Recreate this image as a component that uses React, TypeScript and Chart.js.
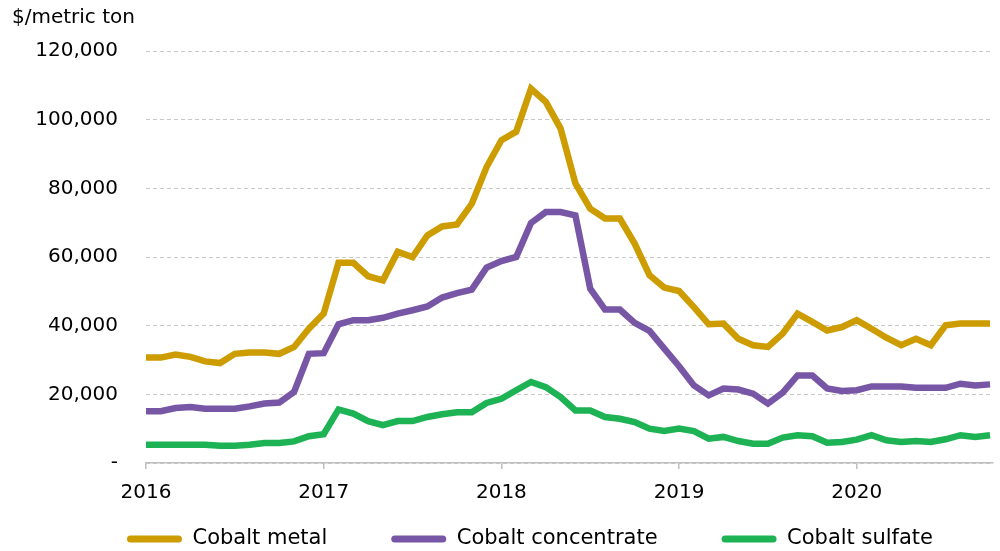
import React, { useEffect, useRef } from "react";
import { Chart, registerables } from "chart.js";

Chart.register(...registerables);

const seriesNames = ["Cobalt metal", "Cobalt concentrate", "Cobalt sulfate"];
const seriesColors = ["#CC9C00", "#7856A6", "#1DB254"];

// Monthly values, Jan 2016 – Oct 2020 ($/metric ton)
const cobaltMetal = [
  30700, 30700, 31600, 30900, 29600, 29100, 31800, 32200, 32200, 31800, 33800, 39100,
  43500, 58300, 58300, 54400, 53200, 61500, 60000, 66300, 68900, 69500, 75500, 86200,
  94000, 96500, 109000, 105200, 97400, 81400, 74100, 71200, 71200, 63900, 54700, 51100,
  50100, 45400, 40400, 40600, 36200, 34300, 33800, 37700, 43500, 41100, 38600, 39600,
  41600, 39100, 36500, 34300, 36200, 34300, 40100, 40600, 40600, 40600,
];
const cobaltConcentrate = [
  15100, 15100, 16000, 16300, 15800, 15800, 15800, 16500, 17300, 17600, 20700, 31800,
  32000, 40400, 41600, 41600, 42300, 43500, 44500, 45600, 48200, 49500, 50500, 56900,
  58800, 60000, 69900, 73100, 73100, 72100, 50800, 44700, 44700, 40800, 38500, 33300,
  28200, 22600, 19700, 21700, 21400, 20200, 17300, 20500, 25500, 25500, 21700, 21000,
  21200, 22300, 22300, 22300, 21900, 21900, 21900, 23100, 22600, 22900,
];
const cobaltSulfate = [
  5300, 5300, 5300, 5300, 5300, 5000, 5000, 5300, 5800, 5800, 6300, 7800,
  8400, 15600, 14400, 12200, 11000, 12200, 12200, 13400, 14200, 14800, 14800, 17500,
  18700, 21200, 23600, 22100, 19200, 15300, 15300, 13400, 12900, 11900, 10000, 9300,
  10000, 9300, 7100, 7600, 6400, 5600, 5600, 7400, 8100, 7800, 5900, 6100,
  6800, 8100, 6600, 6100, 6400, 6100, 6900, 8100, 7600, 8100,
];

const xTickPositions = [0, 12, 24, 36, 48];
const xTickLabels = ["2016", "2017", "2018", "2019", "2020"];
const yTicks = [0, 20000, 40000, 60000, 80000, 100000, 120000];
const yTickLabels = ["-", "20,000", "40,000", "60,000", "80,000", "100,000", "120,000"];
const yAxisTitle = "$/metric ton";

const allSeries = [cobaltMetal, cobaltConcentrate, cobaltSulfate];

const FONT = "'DejaVu Sans', sans-serif";

const unitLabelPlugin = {
  id: "unitLabel",
  afterDraw(chart: any) {
    const ctx = chart.ctx;
    ctx.save();
    ctx.font = `20px ${FONT}`;
    ctx.fillStyle = "#000";
    ctx.textAlign = "left";
    ctx.textBaseline = "middle";
    ctx.fillText(yAxisTitle, 12, 18);
    ctx.restore();
  },
};

// Moves the legend row to sit below the year labels, slightly right of centre
const legendPlacePlugin = {
  id: "legendPlace",
  afterLayout(chart: any) {
    const lg = chart.legend;
    if (!lg) return;
    lg.top = 464.5;
    lg.bottom = chart.height;
    lg.left += 16;
    lg.right += 16;
  },
};

export default function App() {
  const ref = useRef<HTMLCanvasElement | null>(null);

  useEffect(() => {
    if (!ref.current) return;
    const axisFont = { family: FONT, size: 20 };
    const chart = new Chart(ref.current, {
      type: "line",
      data: {
        datasets: allSeries.map((vals, si) => ({
          label: seriesNames[si],
          data: vals.map((v, i) => ({ x: i, y: v })),
          borderColor: seriesColors[si],
          backgroundColor: seriesColors[si],
          borderWidth: 6.5,
          pointRadius: 0,
          tension: 0,
          fill: false,
        })),
      },
      plugins: [unitLabelPlugin, legendPlacePlugin],
      options: {
        animation: false,
        responsive: false,
        maintainAspectRatio: false,
        layout: { padding: { left: 35, right: 7, top: 51, bottom: 0 } },
        plugins: {
          title: { display: false },
          legend: {
            position: "bottom",
            maxHeight: 46,
            labels: {
              color: "#000",
              font: { family: FONT, size: 21 },
              boxWidth: 55,
              boxHeight: 7,
              padding: 64,
              useBorderRadius: true,
              borderRadius: 3.5,
              generateLabels: (c: any) =>
                Chart.defaults.plugins.legend.labels
                  .generateLabels(c)
                  .map((l: any) => ({ ...l, lineWidth: 0 })),
            },
          },
          tooltip: { enabled: false },
        },
        scales: {
          x: {
            type: "linear",
            min: 0,
            max: 57.2,
            afterBuildTicks: (s: any) => {
              s.ticks = xTickPositions.map((v) => ({ value: v }));
            },
            afterFit: (s: any) => {
              s.height = 42;
            },
            ticks: {
              autoSkip: false,
              maxRotation: 0,
              color: "#000",
              font: axisFont,
              padding: 12,
              callback: (v: any) => {
                const k = xTickPositions.indexOf(Number(v));
                return k >= 0 ? xTickLabels[k] : "";
              },
            },
            grid: {
              display: true,
              drawOnChartArea: false,
              drawTicks: true,
              tickLength: 6,
              color: "#bfbfbf",
              lineWidth: 1.5,
            },
            border: { display: true, color: "#bfbfbf", width: 1.5 },
          },
          y: {
            min: 0,
            max: 120000,
            afterBuildTicks: (s: any) => {
              s.ticks = yTicks.map((v) => ({ value: v }));
            },
            afterFit: (s: any) => {
              s.width = 111;
            },
            ticks: {
              color: "#000",
              font: axisFont,
              padding: 28,
              callback: (v: any) => {
                const k = yTicks.indexOf(Number(v));
                return k >= 0 ? yTickLabels[k] : "";
              },
            },
            grid: { color: "#c8c8c8", lineWidth: 1, drawTicks: false },
            border: { display: false, dash: [4, 3] },
          },
        },
      },
    } as any);
    return () => chart.destroy();
  }, []);

  return (
    <div style={{ position: "fixed", left: 0, top: 0, width: 1000, height: 551, background: "#fff" }}>
      <canvas ref={ref} width={1000} height={551} style={{ width: 1000, height: 551 }} />
    </div>
  );
}
